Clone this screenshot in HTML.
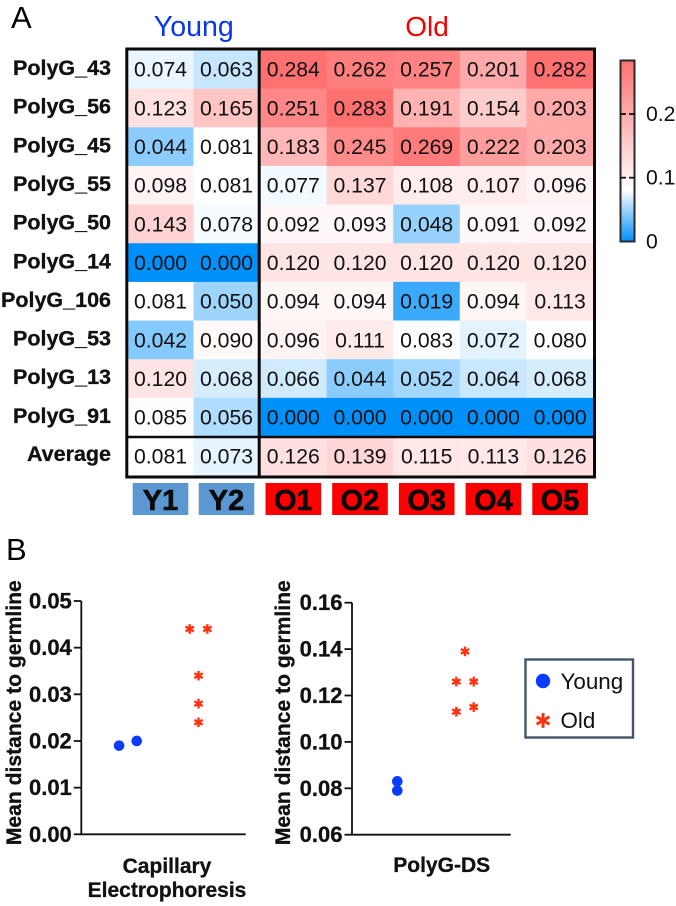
<!DOCTYPE html>
<html lang="en">
<head>
<meta charset="utf-8">
<title>PolyG heatmap and distance to germline</title>
<style>
html,body{margin:0;padding:0;background:#fff;}
svg{display:block;font-family:"Liberation Sans",Arial,sans-serif;}
.b{stroke:#111;stroke-width:0.3px;}
</style>
</head>
<body>
<svg id="fig" width="676" height="906" viewBox="0 0 676 906" xmlns="http://www.w3.org/2000/svg">
  <defs>
    <linearGradient id="cbar" x1="0" y1="1" x2="0" y2="0">
      <stop offset="0" stop-color="rgb(0,144,250)"/>
      <stop offset="0.285" stop-color="#ffffff"/>
      <stop offset="1" stop-color="rgb(255,112,112)"/>
    </linearGradient>
  </defs>
  <text x="11" y="28" font-size="31">A</text>
  <text x="6" y="560" font-size="31">B</text>
  <text x="193.8" y="36" font-size="28.6" fill="#0a36f0" text-anchor="middle">Young</text>
  <text x="427" y="36" font-size="28" fill="#f40000" text-anchor="middle">Old</text>
  <g id="heat"></g>
  <g id="colorbar"></g>
  <g id="chart1"></g>
  <g id="chart2"></g>
  <g id="legend"></g>
</svg>
<script>
// ---- heatmap data ----
var rowLabels = ['PolyG_43','PolyG_56','PolyG_45','PolyG_55','PolyG_50','PolyG_14','PolyG_106','PolyG_53','PolyG_13','PolyG_91'];
var columnLabels = ['Y1','Y2','O1','O2','O3','O4','O5'];
var heatRow43 = [0.074,0.063,0.284,0.262,0.257,0.201,0.282];
var heatRow56 = [0.123,0.165,0.251,0.283,0.191,0.154,0.203];
var heatRow45 = [0.044,0.081,0.183,0.245,0.269,0.222,0.203];
var heatRow55 = [0.098,0.081,0.077,0.137,0.108,0.107,0.096];
var heatRow50 = [0.143,0.078,0.092,0.093,0.048,0.091,0.092];
var heatRow14 = [0.000,0.000,0.120,0.120,0.120,0.120,0.120];
var heatRow106 = [0.081,0.050,0.094,0.094,0.019,0.094,0.113];
var heatRow53 = [0.042,0.090,0.096,0.111,0.083,0.072,0.080];
var heatRow13 = [0.120,0.068,0.066,0.044,0.052,0.064,0.068];
var heatRow91 = [0.085,0.056,0.000,0.000,0.000,0.000,0.000];
var heatRows = [heatRow43,heatRow56,heatRow45,heatRow55,heatRow50,heatRow14,heatRow106,heatRow53,heatRow13,heatRow91];
var averageRow = [0.081,0.073,0.126,0.139,0.115,0.113,0.126];
var colorbarTicks = [0,0.1,0.2];
var colorbarTickLabels = ['0','0.1','0.2'];

// ---- scatter data ----
var ceTicks = [0,0.01,0.02,0.03,0.04,0.05];
var ceTickLabels = ['0.00','0.01','0.02','0.03','0.04','0.05'];
var ceYoung = [0.019,0.020];
var ceYoungSlots = [-1,1];
var ceOld = [0.044,0.044,0.034,0.028,0.024];
var ceOldSlots = [-1,1,0,0,0];
var dsTicks = [0.06,0.08,0.10,0.12,0.14,0.16];
var dsTickLabels = ['0.06','0.08','0.10','0.12','0.14','0.16'];
var dsYoung = [0.083,0.079];
var dsYoungSlots = [0,0];
var dsOld = [0.139,0.126,0.126,0.115,0.113];
var dsOldSlots = [0,-1,1,1,-1];

var NS = 'http://www.w3.org/2000/svg';
function mk(parent, tag, attrs, text) {
  var el = document.createElementNS(NS, tag);
  for (var k in attrs) el.setAttribute(k, attrs[k]);
  if (text !== undefined) el.textContent = text;
  parent.appendChild(el);
  return el;
}

// colour scale
var scaleMid = 0.081, scaleMax = 0.284;
function heatColor(v) {
  var t;
  if (v <= scaleMid) {
    t = Math.max(0, v / scaleMid);
    return 'rgb(' + Math.round(255 * t) + ',' + Math.round(144 + 111 * t) + ',' + Math.round(250 + 5 * t) + ')';
  }
  t = Math.min(1, (v - scaleMid) / (scaleMax - scaleMid));
  var c = Math.round(255 - 143 * t);
  return 'rgb(255,' + c + ',' + c + ')';
}

// heatmap geometry
function colLeft(i) { return i < 2 ? 128 + i * 65.5 : 260 + (i - 2) * 66.6; }
function colRight(i) { return i < 1 ? colLeft(1) : (i === 1 ? 259 : colLeft(i + 1)); }
function colCenter(i) { return i < 2 ? 160.5 + i * 66 : 293.3 + (i - 2) * 66.7; }
function rowTop(i) { return 50 + i * 38.65; }

var heat = document.getElementById('heat');
heatRows.forEach(function (vals, r) {
  var label = mk(heat, 'text', {x: 111, y: 75 + r * 38.65, 'font-size': 21.5, 'font-weight': 'bold', 'text-anchor': 'end', fill: '#111', 'class': 'b'}, rowLabels[r]);
  
  
  vals.forEach(function (v, c) {
    var cell = mk(heat, 'rect', {x: colLeft(c), y: rowTop(r), width: colRight(c) - colLeft(c) + 0.3, height: 38.95, fill: heatColor(v)});
    
    
    var t = mk(heat, 'text', {x: colCenter(c), y: rowTop(r) + 26.7, 'font-size': 21.2, 'text-anchor': 'middle', fill: '#111'}, v.toFixed(3));
    
    
  });
});
var avgLabel = mk(heat, 'text', {x: 111, y: 461, 'font-size': 21.5, 'font-weight': 'bold', 'text-anchor': 'end', fill: '#111', 'class': 'b'}, 'Average');


averageRow.forEach(function (v, c) {
  var cell = mk(heat, 'rect', {x: colLeft(c), y: 438, width: colRight(c) - colLeft(c) + 0.3, height: 38, fill: heatColor(v)});
  
  
  var t = mk(heat, 'text', {x: colCenter(c), y: 463.3, 'font-size': 21.2, 'text-anchor': 'middle', fill: '#111'}, v.toFixed(3));
  
  
});
var frame = mk(heat, 'rect', {x: 126.8, y: 49, width: 467.7, height: 428, fill: 'none', stroke: '#0a0a0a', 'stroke-width': 3});


var vDiv = mk(heat, 'line', {x1: 259.2, x2: 259.2, y1: 49, y2: 477, stroke: '#0a0a0a', 'stroke-width': 3});


var hDiv = mk(heat, 'line', {x1: 126.8, x2: 594.5, y1: 437, y2: 437, stroke: '#0a0a0a', 'stroke-width': 2.6});



columnLabels.forEach(function (name, c) {
  var tag = mk(heat, 'rect', {x: colCenter(c) - 27.8, y: 483, width: 55.6, height: 32, fill: name.charAt(0) === 'Y' ? '#5b97d0' : '#ff0000'});
  
  
  var t = mk(heat, 'text', {x: colCenter(c), y: 510, 'font-size': 29, 'font-weight': 'bold', 'text-anchor': 'middle', fill: '#0a0a0a', stroke: '#0a0a0a', 'stroke-width': 0.6}, name);
  
  
});

// colour bar
var cb = document.getElementById('colorbar');
function cbY(v) { return 241.4 - v * 637; }
var bar = mk(cb, 'rect', {x: 620.5, y: 60.5, width: 14, height: 181, fill: 'url(#cbar)', stroke: '#2a2a2a', 'stroke-width': 2});


colorbarTicks.forEach(function (v, i) {
  if (v > 0) {
    var a = mk(cb, 'line', {x1: 620, x2: 626, y1: cbY(v), y2: cbY(v), stroke: '#111', 'stroke-width': 1.8});
    
    
    var b = mk(cb, 'line', {x1: 629, x2: 635, y1: cbY(v), y2: cbY(v), stroke: '#111', 'stroke-width': 1.8});
    
    
  }
  var t = mk(cb, 'text', {x: 646, y: cbY(v) + 7, 'font-size': 21.2, fill: '#111'}, colorbarTickLabels[i]);
  
  
});

// markers
var YOUNG = '#0a3cff', OLD = '#ff3210';
function star(parent, cx, cy, r, w) {
  var g = mk(parent, 'g', {});
  
  
  [90, 30, -30].forEach(function (deg) {
    var a = deg * Math.PI / 180, dx = r * Math.cos(a), dy = r * Math.sin(a);
    mk(g, 'line', {x1: cx - dx, y1: cy - dy, x2: cx + dx, y2: cy + dy, stroke: OLD, 'stroke-width': w});
  });
  return g;
}
function dot(parent, cx, cy, r) {
  var c = mk(parent, 'circle', {cx: cx, cy: cy, r: r, fill: YOUNG});
  
  
  return c;
}

// scatter charts
function scatter(cfg) {
  var g = document.getElementById(cfg.id);
  function y(v) { return cfg.y0 + (v - cfg.min) / (cfg.max - cfg.min) * (cfg.y1 - cfg.y0); }
  function x(center, slot) { return center + slot * cfg.step; }
  var ax = mk(g, 'path', {d: 'M' + cfg.ax + ' ' + y(cfg.max) + 'V' + y(cfg.min) + 'H' + cfg.right, fill: 'none', stroke: '#111', 'stroke-width': 1.8});
  
  
  cfg.ticks.forEach(function (v, i) {
    var tk = mk(g, 'line', {x1: cfg.ax - 7.5, x2: cfg.ax, y1: y(v), y2: y(v), stroke: '#111', 'stroke-width': 1.8});
    
    
    var t = mk(g, 'text', {x: cfg.ax - 9.5, y: y(v) + 7.5, 'font-size': 22, 'font-weight': 'bold', 'text-anchor': 'end', fill: '#111', 'class': 'b'}, cfg.labels[i]);
    
    
  });
  var title = mk(g, 'text', {transform: 'translate(' + cfg.titleX + ',712.7) rotate(-90)', 'font-size': 21.1, 'font-weight': 'bold', 'text-anchor': 'middle', fill: '#111', 'class': 'b'}, 'Mean distance to germline');
  
  
  cfg.xLines.forEach(function (s, i) {
    var t = mk(g, 'text', {x: cfg.xCenter, y: cfg.xBase + i * 24, 'font-size': 21, 'font-weight': 'bold', 'text-anchor': 'middle', fill: '#111', 'class': 'b'}, s);
    
    
  });
  cfg.young.forEach(function (v, i) { dot(g, x(cfg.youngCenter, cfg.youngSlots[i]), y(v), 5.3); });
  cfg.old.forEach(function (v, i) { star(g, x(cfg.oldCenter, cfg.oldSlots[i]), y(v), 4.8, 2.4); });
}
scatter({id: 'chart1', min: 0, max: 0.05, y0: 834.3, y1: 601, ax: 81.3, right: 245.7, step: 8.8, titleX: 21,
  ticks: ceTicks, labels: ceTickLabels, young: ceYoung, youngSlots: ceYoungSlots, old: ceOld, oldSlots: ceOldSlots,
  youngCenter: 127.9, oldCenter: 198.5, xCenter: 167, xBase: 873, xLines: ['Capillary', 'Electrophoresis']});
scatter({id: 'chart2', min: 0.06, max: 0.16, y0: 834.7, y1: 602.7, ax: 352, right: 510.7, step: 8.7, titleX: 290,
  ticks: dsTicks, labels: dsTickLabels, young: dsYoung, youngSlots: dsYoungSlots, old: dsOld, oldSlots: dsOldSlots,
  youngCenter: 397.3, oldCenter: 465, xCenter: 441.7, xBase: 872, xLines: ['PolyG-DS']});

// legend
var lg = document.getElementById('legend');
var box = mk(lg, 'rect', {x: 525.5, y: 659.5, width: 107.5, height: 78, fill: '#fff', stroke: '#44546a', 'stroke-width': 2.4});


var ld = dot(lg, 543, 681, 7.2);

var ls = star(lg, 543, 720.5, 7.4, 3);

var lt1 = mk(lg, 'text', {x: 560.5, y: 689, 'font-size': 22.4, fill: '#111'}, 'Young');


var lt2 = mk(lg, 'text', {x: 560.5, y: 728, 'font-size': 22.4, fill: '#111'}, 'Old');


</script>
</body>
</html>
